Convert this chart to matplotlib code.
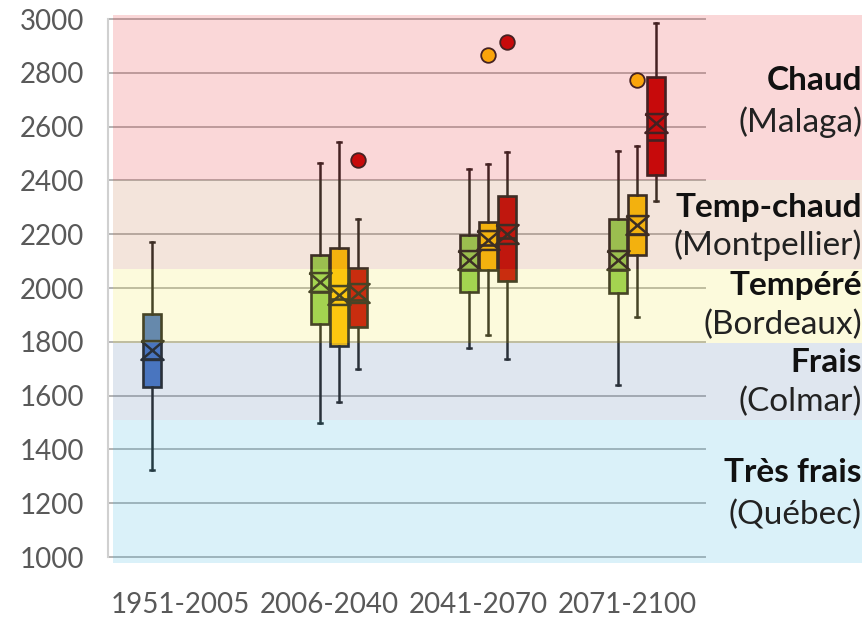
import numpy as np
import matplotlib
matplotlib.use("Agg")
import matplotlib.pyplot as plt
from matplotlib.path import Path

plt.rcParams["font.family"] = ["Lato", "DejaVu Sans"]

# Périodes et séries (indice héliothermique)
periods = ["1951-2005", "2006-2040", "2041-2070", "2071-2100"]

# 1951-2005 (historique)
hist_whislo = [1325]
hist_q1 = [1634]
hist_med = [1738]
hist_q3 = [1905]
hist_whishi = [2171]
hist_mean = [1771]
hist_fliers = [[]]

# scénarios futurs, périodes 2006-2040, 2041-2070, 2071-2100
green_whislo = [1498, 1776, 1640]
green_q1 = [1867, 1985, 1981]
green_med = [1986, 2068, 2068]
green_q3 = [2124, 2196, 2258]
green_whishi = [2465, 2444, 2510]
green_mean = [2021, 2103, 2103]
green_fliers = [[], [], []]

orange_whislo = [1575, 1827, 1892]
orange_q1 = [1783, 2066, 2124]
orange_med = [1960, 2160, 2202]
orange_q3 = [2150, 2245, 2347]
orange_whishi = [2543, 2463, 2528]
orange_mean = [1975, 2177, 2233]
orange_fliers = [[], [2866], [2773]]

red_whislo = [1700, 1737, 2322]
red_q1 = [1857, 2027, 2422]
red_med = [1955, 2185, 2550]
red_q3 = [2074, 2341, 2785]
red_whishi = [2258, 2504, 2986]
red_mean = [1980, 2202, 2612]
red_fliers = [[2475], [2915], []]

# classes climatiques
band_lo = [978, 1510, 1795, 2070, 2400]
band_hi = [1510, 1795, 2070, 2400, 3015]
band_names = ["Très frais", "Frais", "Tempéré", "Temp-chaud", "Chaud"]
band_towns = ["(Québec)", "(Colmar)", "(Bordeaux)", "(Montpellier)", "(Malaga)"]

yticks = list(range(1000, 3001, 200))

# couleurs (bandes posées en voile transparent par-dessus les boîtes)
band_colors = ["#46b9e1", "#5f82af", "#f0e650", "#c3784b", "#e6373c"]
band_alpha = 0.2
name_y = [1316, 1725, 2011, 2301, 2773]
town_y = [1156, 1576, 1863, 2160, 2617]


def stats(whislo, q1, med, q3, whishi, mean, fliers):
    return [dict(whislo=a, q1=b, med=c, q3=d, whishi=e, mean=f, fliers=g)
            for a, b, c, d, e, f, g in zip(whislo, q1, med, q3, whishi, mean, fliers)]


series = [
    (stats(hist_whislo, hist_q1, hist_med, hist_q3, hist_whishi, hist_mean, hist_fliers), [0], 0, "#4472c4"),
    (stats(green_whislo, green_q1, green_med, green_q3, green_whishi, green_mean, green_fliers), [1, 2, 3], 1, "#92d050"),
    (stats(orange_whislo, orange_q1, orange_med, orange_q3, orange_whishi, orange_mean, orange_fliers), [1, 2, 3], 2, "#ffc000"),
    (stats(red_whislo, red_q1, red_med, red_q3, red_whishi, red_mean, red_fliers), [1, 2, 3], 3, "#c00000"),
]

# marqueur de moyenne en sablier
hourglass = Path([(-1, 0.85), (1, 0.85), (-1, -0.85), (1, -0.85), (-1, 0.85)],
                 [Path.MOVETO, Path.LINETO, Path.LINETO, Path.LINETO, Path.LINETO])

W, H = 867, 617
fig = plt.figure(figsize=(W / 100, H / 100), dpi=100)
ax = fig.add_axes([106 / W, 1 - 563 / H, (862 - 106) / W, (563 - 15) / H])
ax.set_xlim(-0.5, 4.574)
ax.set_ylim(978, 3015)

slot = 0.1275
edge = "#1c1c1c"
for st, cats, k, col in series:
    pos = [c + (k - 1.5) * slot for c in cats]
    ax.bxp(st, positions=pos, widths=0.12, showmeans=True, patch_artist=True,
           capwidths=0.03, manage_ticks=False,
           boxprops=dict(facecolor=col, edgecolor=edge, linewidth=1.9),
           medianprops=dict(color=edge, linewidth=1.9),
           whiskerprops=dict(color=edge, linewidth=1.8),
           capprops=dict(color=edge, linewidth=1.8),
           meanprops=dict(marker=hourglass, markersize=16, markerfacecolor="none",
                          markeredgecolor=edge, markeredgewidth=1.8),
           flierprops=dict(marker="o", markersize=10.5, markerfacecolor=col,
                           markeredgecolor=edge, markeredgewidth=1.3))

# grille et axe vertical (sous le voile)
x0 = -0.487
x1 = 3.52
for t in yticks:
    ax.plot([x0, x1], [t, t], color="#b3b3b3", lw=1.4, zorder=1)
ax.plot([x0, x0], [yticks[0], yticks[-1]], color="#d0d0d0", lw=1.5, zorder=1)

# bandes des classes
for lo, hi, c in zip(band_lo, band_hi, band_colors):
    ax.fill_between([-0.453, 4.574], lo, hi, color=c, alpha=band_alpha, lw=0, zorder=4)

yt = ax.get_yaxis_transform()
for nm, tw, ny, ty in zip(band_names, band_towns, name_y, town_y):
    ax.text(1.0, ny, nm, transform=yt, ha="right", va="center", fontsize=24,
            fontweight="bold", color="#111111", zorder=6)
    ax.text(1.0, ty, tw, transform=yt, ha="right", va="center", fontsize=24,
            color="#222222", zorder=6)

ax.set_yticks(yticks)
ax.set_yticklabels([str(t) for t in yticks])
ax.set_xticks(range(len(periods)))
ax.set_xticklabels(periods)
ax.tick_params(axis="y", length=0, pad=16, labelsize=20, labelcolor="#595959")
ax.tick_params(axis="x", length=0, pad=21, labelsize=20, labelcolor="#595959")
for s in ax.spines.values():
    s.set_visible(False)

fig.savefig("out.png", dpi=100)
